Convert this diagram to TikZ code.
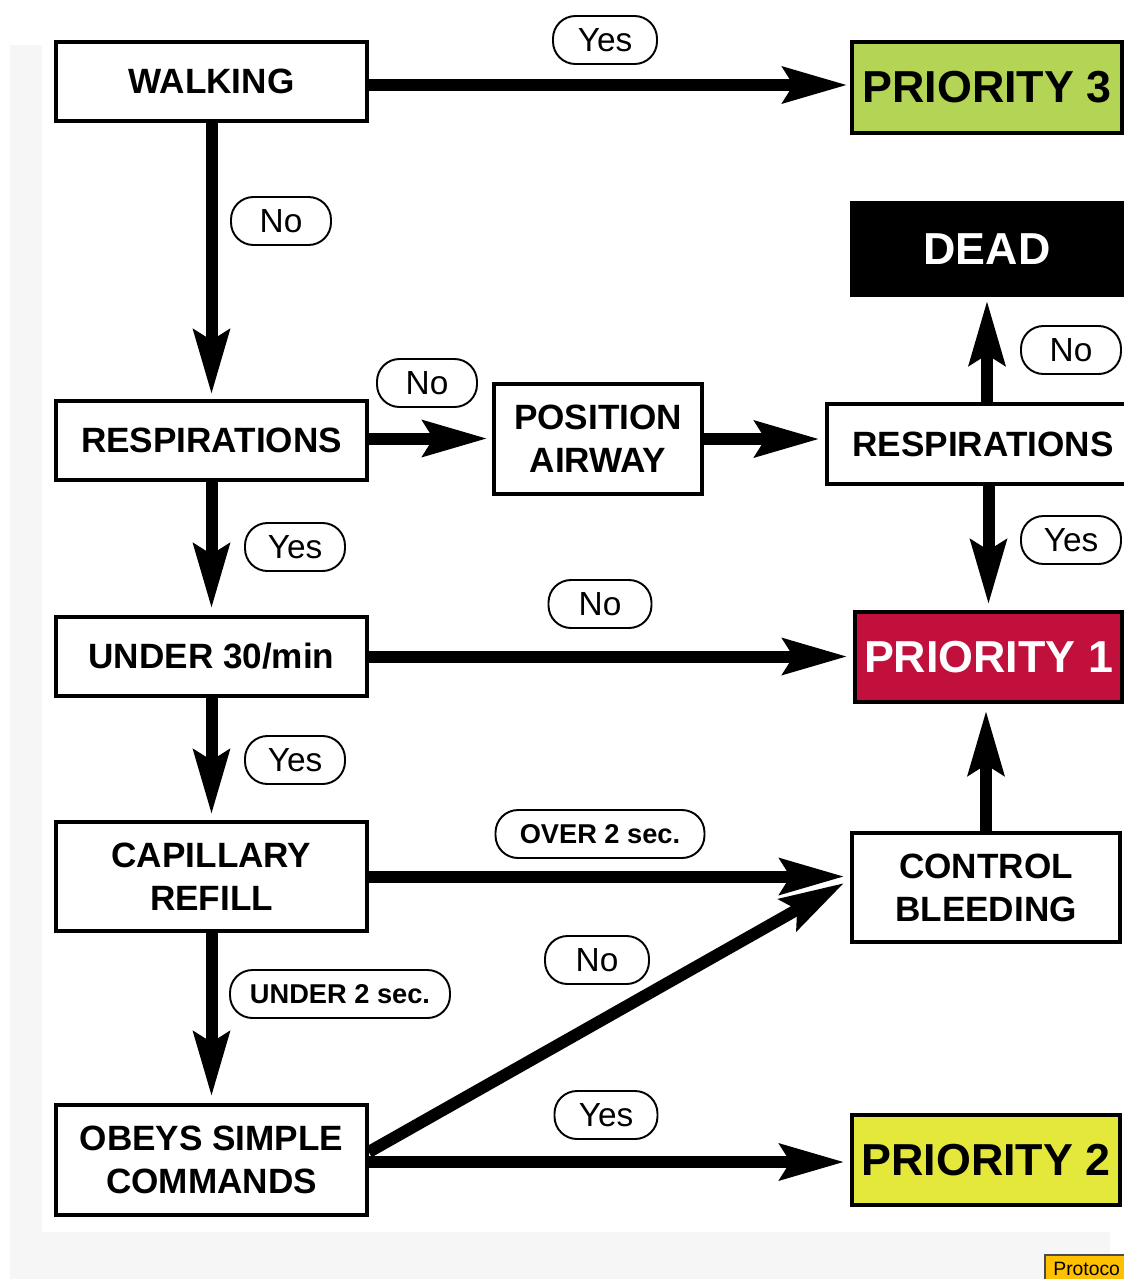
\documentclass[tikz,border=0pt]{standalone}
\usepackage{fontspec}
\setmainfont{Liberation Sans}
\usetikzlibrary{arrows.meta,calc}
\definecolor{pthreegreen}{HTML}{B4D455}
\definecolor{ponered}{HTML}{C1103C}
\definecolor{ptwoyellow}{HTML}{E4E83A}
\definecolor{bggray}{HTML}{F6F6F6}
\definecolor{tagorange}{HTML}{FFC000}
\tikzset{
  box/.style={draw=black, line width=2pt, fill=white, align=center, inner sep=0pt,
    font=\fontsize{20}{24.5}\selectfont\bfseries},
  bigbox/.style={box, font=\fontsize{25.5}{28}\selectfont\bfseries},
  pill/.style={draw=black, line width=1.1pt, fill=white, rounded corners=0.45cm,
    minimum height=0.96cm, minimum width=2cm, inner sep=0pt,
    font=\fontsize{19}{19}\selectfont},
  widepill/.style={pill, font=\fontsize{15.5}{16}\selectfont\bfseries},
  arr/.style={line width=0.24cm,
    -{Stealth[length=1.3cm,width=0.76cm,inset=0.24cm,line width=0pt]}},
}
\begin{document}
\begin{tikzpicture}[x=0.02cm,y=-0.02cm]
\clip (0,0) rectangle (1124,1279);
\fill[white] (0,0) rectangle (1124,1279);
\fill[bggray] (10,45) rectangle (1110,1279);
\fill[white] (42,45) rectangle (1124,1232);

% nodes
\node[box, minimum width=6.22cm, minimum height=1.58cm] (walk) at (211.5,81.5) {WALKING};
\node[bigbox, fill=pthreegreen, minimum width=5.4cm, minimum height=1.82cm] (p3) at (987,87.5) {PRIORITY 3};
\node[bigbox, fill=black, text=white, minimum width=5.4cm, minimum height=1.84cm] (dead) at (987,249) {DEAD};
\node[box, minimum width=6.22cm, minimum height=1.58cm] (resp1) at (211.5,440.5) {RESPIRATIONS};
\node[box, minimum width=4.16cm, minimum height=2.2cm] (pos) at (598,439) {POSITION\\AIRWAY};
\node[box, minimum width=6.24cm, minimum height=1.6cm] (resp2) at (983,444) {RESPIRATIONS};
\node[box, minimum width=6.22cm, minimum height=1.58cm] (un30) at (211.5,656.5) {UNDER 30/min};
\node[bigbox, fill=ponered, text=white, minimum width=5.34cm, minimum height=1.8cm] (p1) at (988.5,657) {PRIORITY 1};
\node[box, minimum width=6.22cm, minimum height=2.18cm] (cap) at (211.5,876.5) {CAPILLARY\\REFILL};
\node[box, minimum width=5.36cm, minimum height=2.18cm] (ctrl) at (986,887.5) {CONTROL\\BLEEDING};
\node[box, minimum width=6.22cm, minimum height=2.2cm] (obey) at (211.5,1160) {OBEYS SIMPLE\\COMMANDS};
\node[bigbox, fill=ptwoyellow, minimum width=5.36cm, minimum height=1.8cm] (p2) at (986,1160) {PRIORITY 2};

% connectors
\draw[arr, shorten >=0.08cm] ($(walk.east)+(0,3.5)$) -- ($(walk.east -| p3.west)+(0,3.5)$);
\draw[arr, shorten >=0.12cm] (walk.south) -- (resp1.north);
\draw[arr, shorten >=0.12cm] ($(resp1.east)+(0,-2)$) -- ($(resp1.east -| pos.west)+(0,-2)$);
\draw[arr, shorten >=0.14cm] (pos.east) -- (pos.east -| resp2.west);
\draw[arr, shorten >=0.1cm] (resp2.north -| dead.south) -- (dead.south);
\draw[arr, shorten >=0.14cm] (resp2.south -| p1.north) -- (p1.north);
\draw[arr, shorten >=0.16cm] (resp1.south) -- (un30.north);
\draw[arr, shorten >=0.14cm] (un30.east) -- (un30.east -| p1.west);
\draw[arr, shorten >=0.14cm] (un30.south) -- (cap.north);
\draw[arr, shorten >=0.14cm] (cap.east) -- (cap.east -| ctrl.west);
\draw[arr, shorten >=0.16cm] (ctrl.north) -- (ctrl.north |- p1.south);
\draw[arr, shorten >=0.16cm] (cap.south) -- (obey.north);
\coordinate (diagend) at ($(ctrl.west)+(-7,-4)$);
\draw[arr] ($(obey.east)+(0,-8)$) -- (diagend);
\draw[arr, shorten >=0.14cm] ($(obey.east)+(0,2)$) -- ($(obey.east -| p2.west)+(0,2)$);

% labels
\node[pill, minimum width=2.08cm] (l1) at (605,40) {Yes};
\node[pill] (l2) at (281,221) {No};
\node[pill] (l3) at (427,383) {No};
\node[pill] (l4) at (1071,350) {No};
\node[pill] (l5) at (295,547) {Yes};
\node[pill] (l6) at (1071,540) {Yes};
\node[pill, minimum width=2.06cm] (l7) at (600,604) {No};
\node[pill] (l8) at (295,760) {Yes};
\node[widepill, minimum width=4.18cm] (l9) at (600,834) {OVER 2 sec.};
\node[widepill, minimum width=4.4cm] (l10) at (340,994) {UNDER 2 sec.};
\node[pill, minimum width=2.08cm] (l11) at (597,960) {No};
\node[pill, minimum width=2.06cm] (l12) at (606,1115) {Yes};

% tag at bottom right
\draw[fill=tagorange, draw=black!70, line width=0.6pt] (1045,1255) rectangle (1140,1290);
\node[anchor=base west, inner sep=0pt, font=\fontsize{11}{11}\selectfont] (tag) at (1053,1275) {Protoco};
\end{tikzpicture}
\end{document}
